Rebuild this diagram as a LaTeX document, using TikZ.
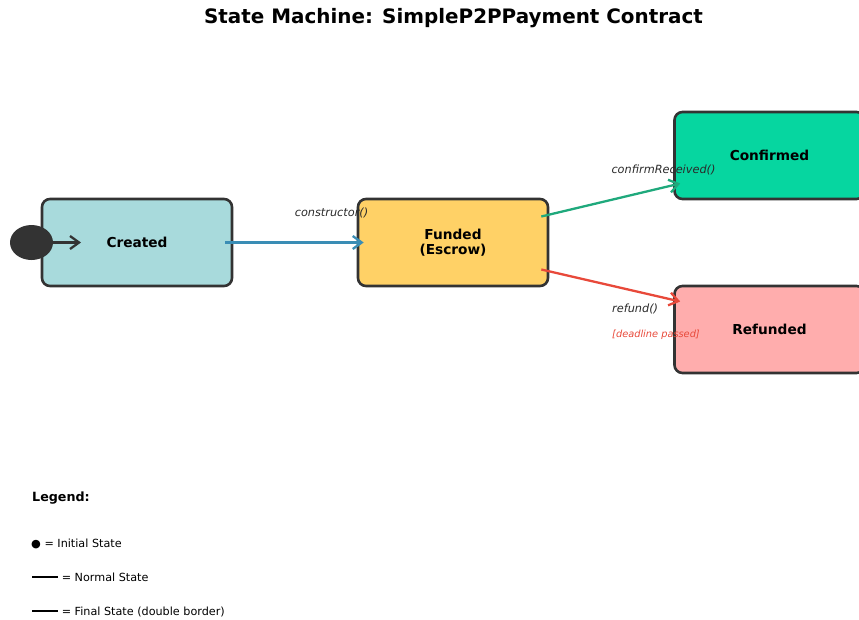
\documentclass[tikz,border=0pt]{standalone}
\usepackage{fontspec}
\setmainfont{DejaVu Sans}
\usetikzlibrary{arrows.meta,shapes.geometric}
\definecolor{edgegray}{HTML}{333333}
\definecolor{createdfill}{HTML}{A8DADC}
\definecolor{fundedfill}{HTML}{FFD166}
\definecolor{confirmedfill}{HTML}{06D6A0}
\definecolor{refundedfill}{HTML}{FFADAD}
\definecolor{flowblue}{HTML}{3A8DB5}
\definecolor{flowgreen}{HTML}{1FA97C}
\definecolor{flowred}{HTML}{E8493A}
\definecolor{labelgray}{HTML}{2A2A2A}
\tikzset{
  statebox/.style={draw=edgegray, line width=2.6pt, rounded corners=8pt,
    minimum width=190pt, minimum height=87pt, inner sep=0pt,
    font=\fontsize{13.7}{15.5}\selectfont\bfseries, align=center},
  trans/.style={line width=2.3pt, -{Straight Barb[length=9pt,width=13pt,line width=2.3pt]}},
  evlabel/.style={font=\fontsize{11.3}{13}\selectfont\itshape, text=labelgray, inner sep=0pt},
  legendtext/.style={font=\fontsize{11.2}{13}\selectfont, anchor=west, inner sep=0pt},
}
\newcommand{\legendbar}{\rule[0.3em]{26pt}{2pt}}
\begin{document}
\begin{tikzpicture}[x=1pt,y=-1pt]
  \useasboundingbox (0,0) rectangle (859,619);
  \begin{scope}
    \clip (0,0) rectangle (859,619);

    % title
    \node[font=\fontsize{19.9}{23}\selectfont\bfseries] (title) at (453.5,18) {State Machine: SimpleP2PPayment Contract};

    % states
    \node[statebox, fill=createdfill] (created) at (137,242.5) {Created};
    \node[statebox, fill=fundedfill] (funded) at (453,242.5) {Funded\\(Escrow)};
    \node[statebox, fill=confirmedfill] (confirmed) at (769.5,155.5) {Confirmed};
    \node[statebox, fill=refundedfill] (refunded) at (769.5,329.5) {Refunded};

    % initial pseudo-state
    \node[ellipse, fill=edgegray, minimum width=43pt, minimum height=35pt, inner sep=0pt] (init) at (31.5,242.5) {};
    \coordinate (initend) at (81,242.5);

    % transitions
    \draw[trans, edgegray] (init.east) -- (initend);
    \draw[trans, flowblue] ([xshift=-8pt]created.east) -- ([xshift=7pt]funded.west);
    \draw[trans, flowgreen] ([xshift=-8pt,yshift=26pt]funded.east) -- ([xshift=7pt,yshift=-28pt]confirmed.west);
    \draw[trans, flowred] ([xshift=-8pt,yshift=-27pt]funded.east) -- ([xshift=7pt,yshift=28pt]refunded.west);

    % event labels
    \node[evlabel] (lconstructor) at (331.5,213) {constructor()};
    \node[evlabel] (lconfirm) at (663.5,170) {confirmReceived()};
    \node[evlabel, anchor=west] (lrefund) at (612,308.5) {refund()};
    \node[font=\fontsize{9.8}{11}\selectfont\itshape, text=flowred, anchor=west, inner sep=0pt] (lguard) at (612,335) {[deadline passed]};

    % legend
    \node[font=\fontsize{12.7}{14}\selectfont\bfseries, anchor=west, inner sep=0pt] (legend) at (32,498.5) {Legend:};
    \node[legendtext] (leginit) at (31,543.5) {● = Initial State};
    \node[legendtext] (legnormal) at (32,577.5) {\legendbar{} = Normal State};
    \node[legendtext] (legfinal) at (32,611.5) {\legendbar{} = Final State (double border)};
  \end{scope}
\end{tikzpicture}
\end{document}
